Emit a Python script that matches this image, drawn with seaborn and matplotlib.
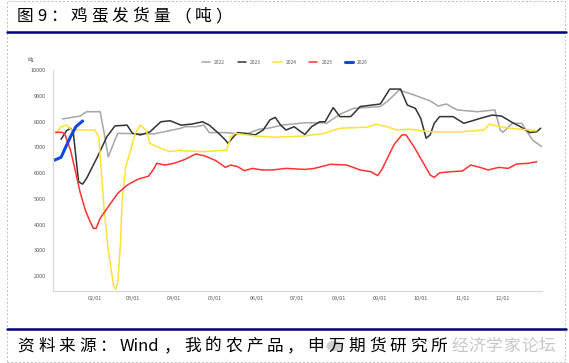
import pandas as pd
import seaborn as sns
import matplotlib.pyplot as plt
from matplotlib.lines import Line2D
from matplotlib.patches import Rectangle, Circle

W, H = 569, 363

# day of year -> shipments (tons)
DAYS_2022 = [7, 20, 25, 35, 38, 41, 48, 75, 86, 95, 98, 106, 112, 116, 128, 143, 153, 160, 170, 187,
             201, 203, 213, 223, 243, 248, 257, 268, 280, 286, 292, 300, 315, 328, 332, 334, 341, 348, 352, 356, 363]
VALS_2022 = [8100, 8210, 8380, 8380, 7550, 6630, 7540, 7520, 7640, 7740, 7800, 7800, 7860, 7570, 7570, 7500, 7700, 7740, 7860, 7950,
             7950, 7930, 8280, 8510, 8580, 8770, 9220, 9030, 8800, 8600, 8680, 8450, 8380, 8450, 7670, 7580, 7930, 7930, 7600, 7280, 7020]

DAYS_2023 = [6, 10, 13, 15, 17, 19, 22, 25, 33, 40, 46, 55, 59, 65, 72, 80, 87, 95, 103, 111,
             116, 123, 128, 130, 134, 137, 143, 150, 156, 161, 165, 169, 173, 179, 184, 187, 192, 198, 202, 208,
             213, 221, 228, 243, 250, 258, 263, 269, 273, 277, 280, 283, 287, 297, 305, 317, 326, 333, 342, 347,
             354, 359, 362]
VALS_2023 = [7310, 7640, 7740, 7600, 6630, 5660, 5570, 5800, 6630, 7410, 7830, 7860, 7540, 7480, 7600, 7990, 8030, 7860, 7900, 7990,
             7860, 7540, 7280, 7150, 7410, 7570, 7540, 7480, 7670, 8060, 8160, 7860, 7670, 7800, 7600, 7500, 7800, 7990, 7990, 8540,
             8190, 8190, 8580, 8680, 9260, 9260, 8640, 8510, 8120, 7350, 7480, 7930, 8190, 8190, 7930, 8120, 8250, 8210, 7930, 7800,
             7570, 7600, 7740]

DAYS_2024 = [2, 6, 10, 14, 31, 34, 38, 41, 45.1, 46.4, 48, 50.1, 51.3, 54, 57, 61, 65, 69, 72, 80,
             87, 95, 98, 111, 129, 132, 135, 150, 165, 187, 201, 213, 233, 240, 248, 255, 265, 280, 302, 320,
             324, 332, 339, 347, 354, 359]
VALS_2024 = [7540, 7800, 7860, 7670, 7670, 7410, 4560, 3010, 1590, 1480, 1720, 3270, 4950, 6250, 6770, 7540, 7860, 7670, 7150, 6960,
             6830, 6890, 6860, 6830, 6890, 7410, 7540, 7440, 7390, 7440, 7540, 7740, 7780, 7890, 7800, 7670, 7700, 7600, 7600, 7670,
             7900, 7800, 7740, 7700, 7670, 7640]

DAYS_2025 = [2, 7, 9, 13, 17, 20, 24, 27, 30, 32, 35, 41, 48, 55, 63, 71, 75, 77, 83, 90,
             98, 106, 113, 121, 128, 132, 137, 142, 148, 155, 163, 173, 187, 194, 206, 218, 228, 236, 241, 244,
             253, 259, 262, 268, 275, 280, 283, 287, 295, 304, 310, 317, 323, 331, 338, 344, 353, 359]
VALS_2025 = [7580, 7580, 7480, 6890, 5990, 5280, 4560, 4180, 3850, 3850, 4240, 4690, 5210, 5530, 5760, 5880, 6180, 6380, 6310, 6380,
             6530, 6740, 6660, 6480, 6220, 6310, 6250, 6090, 6180, 6120, 6120, 6180, 6140, 6180, 6340, 6310, 6120, 6050, 5900, 6120,
             7090, 7480, 7480, 7020, 6380, 5920, 5830, 6010, 6050, 6080, 6310, 6220, 6120, 6220, 6180, 6350, 6380, 6440]

DAYS_2026 = [1, 6, 9, 13, 17, 22]
VALS_2026 = [6500, 6610, 6960, 7410, 7800, 8020]

SERIES = ["2022", "2023", "2024", "2025", "2026"]
COLORS = ["#A6A6A6", "#333333", "#FFE135", "#FF3333", "#1446E6"]
WIDTHS = [1.1, 1.1, 1.1, 1.1, 2.2]

MONTH_DAYS = [31, 59, 90, 120, 151, 181, 212, 243, 273, 304, 334]
MONTH_LABELS = ["02/01", "03/01", "04/01", "05/01", "06/01", "07/01",
                "08/01", "09/01", "10/01", "11/01", "12/01"]
Y_TICKS = list(range(2000, 10001, 1000))

TITLE = "图9：鸡蛋发货量（吨）"
SOURCE = "资料来源：Wind，我的农产品，申万期货研究所"
WATERMARK = "经济学家论坛"

sns.set_style("white")
plt.rcParams["font.family"] = ["Noto Sans CJK SC", "DejaVu Sans"]


def spaced_text(fig, x0, y, text, size, pitch, latin_pitch, color="black", zorder=3):
    # one CJK glyph at a time (wide letter spacing of the original); ascii runs kept together
    x = x0
    i = 0
    while i < len(text):
        ch = text[i]
        if ch.isascii():
            j = i
            while j < len(text) and text[j].isascii():
                j += 1
            run = text[i:j]
            fig.text(x / W, 1 - y / H, run, fontsize=size, color=color, ha="left", va="center", zorder=zorder)
            x += latin_pitch * len(run)
            i = j
        else:
            fig.text(x / W, 1 - y / H, ch, fontsize=size, color=color, ha="left", va="center", zorder=zorder)
            x += pitch
            i += 1


fig = plt.figure(figsize=(W / 100, H / 100), dpi=100)
ax = fig.add_axes([53 / W, 1 - 291 / H, (542 - 53) / W, (291 - 70) / H])

data = [(DAYS_2022, VALS_2022), (DAYS_2023, VALS_2023), (DAYS_2024, VALS_2024),
        (DAYS_2025, VALS_2025), (DAYS_2026, VALS_2026)]
for name, (days, vals), c, lw in zip(SERIES, data, COLORS, WIDTHS):
    df = pd.DataFrame({"day": days, "value": vals})
    sns.lineplot(data=df, x="day", y="value", ax=ax, color=c, linewidth=lw,
                 label=name, estimator=None, sort=False)

ax.set_xlim(0, 363)
ax.set_ylim(1420, 10000)
ax.set_xticks(MONTH_DAYS)
ax.set_xticklabels(MONTH_LABELS)
ax.set_yticks(Y_TICKS)
ax.set_xlabel("")
ax.set_ylabel("")
for side in ["top", "right"]:
    ax.spines[side].set_visible(False)
for side in ["left", "bottom"]:
    ax.spines[side].set_color("#D9D9D9")
    ax.spines[side].set_linewidth(0.9)
ax.tick_params(axis="both", direction="in", length=2.5, width=0.6, color="#D9D9D9",
               labelsize=4, labelcolor="#595959")
ax.tick_params(axis="y", pad=5)
ax.tick_params(axis="x", pad=3.5)

ax.legend(ncol=5, loc="center", bbox_to_anchor=(285 / W, 1 - 62 / H), bbox_transform=fig.transFigure,
          frameon=False, fontsize=3.5, handlelength=1.7, handletextpad=0.8, columnspacing=2.6,
          labelcolor="#595959")

fig.text(30 / W, 1 - 60 / H, "吨", fontsize=4, color="#595959", ha="center", va="center")

# header / footer decoration
spaced_text(fig, 17, 16.5, TITLE, 12, 20.7, 12)
fig.add_artist(Line2D([7 / W, 566 / W], [1 - 32 / H] * 2, color="#000080", lw=1.8))
fig.add_artist(Line2D([7 / W, 566 / W], [1 - 329 / H] * 2, color="#000080", lw=1.8))
fig.add_artist(Circle((334 / W, 1 - 346 / H), 7 / W, transform=fig.transFigure,
                      color="#D0D0D0", zorder=1))
spaced_text(fig, 451, 346.5, WATERMARK, 12, 17.5, 10, color="#C8C8C8", zorder=1)
spaced_text(fig, 17.5, 346.5, SOURCE, 12, 20.5, 11)
fig.add_artist(Rectangle((7 / W, 1 - 362 / H), 558 / W, 361 / H, fill=False, ec="#BFBFBF",
                         lw=0.7, ls=(0, (2, 2)), transform=fig.transFigure))

fig.savefig("out.png", dpi=100)
